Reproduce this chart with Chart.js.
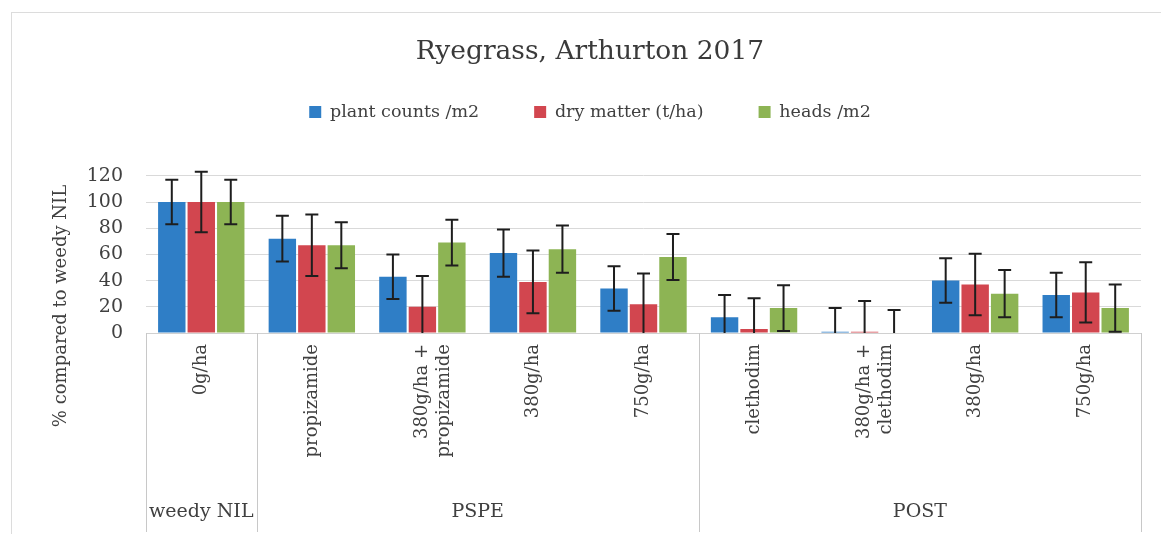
<!DOCTYPE html>
<html>
<head>
<meta charset="utf-8">
<title>Ryegrass, Arthurton 2017</title>
<script src="https://cdn.jsdelivr.net/npm/chart.js@4.4.1/dist/chart.umd.min.js"></script>
<style>
  body{margin:0;background:#fff}
  #wrap{position:relative;width:1161px;height:534px}
  #marco{position:absolute;left:11px;top:12px;right:0;bottom:0;border-top:1px solid #dcdcdc;border-left:1px solid #dcdcdc;pointer-events:none}
</style>
</head>
<body>
<div id="wrap">
  <canvas id="grafico" width="1161" height="534"></canvas>
  <div id="marco"></div>
</div>
<script>
// datos
let categorias=["0g/ha","propizamide",["380g/ha +","propizamide"],"380g/ha","750g/ha","clethodim",["380g/ha +","clethodim"],"380g/ha","750g/ha"]
let grupos=["weedy NIL","PSPE","POST"]
let tamGrupos=[1,4,4]
let series=["plant counts /m2","dry matter (t/ha)","heads /m2"]
let plantas=[100,72,43,61,34,12,1,40,29]
let materiaSeca=[100,67,20,39,22,3,1,37,31]
let cabezas=[100,67,69,64,58,19,0,30,19]
let errPlantas=[17,17.5,17,18,17,17,18,17,17]
let errMateria=[23,23.5,23.5,24,23.5,23.5,23.5,23.5,23]
let errCabezas=[17,17.5,17.5,18,17.5,17.5,17.5,18,18]
let ticksY=[0,20,40,60,80,100,120]
let tituloEje="% compared to weedy NIL"

let colores=['#2f7ec6','#d2464f','#8db454']
let fuente="'DejaVu Serif', serif"
let errores=[errPlantas,errMateria,errCabezas]

const barrasError={
  id:'barrasError',
  afterDatasetsDraw(chart){
    const ctx=chart.ctx, y=chart.scales.y
    ctx.save()
    ctx.strokeStyle='#1e1e1e'
    ctx.lineWidth=2
    chart.data.datasets.forEach((ds,k)=>{
      const meta=chart.getDatasetMeta(k)
      meta.data.forEach((bar,j)=>{
        const v=ds.data[j], e=errores[k][j]
        const yTop=y.getPixelForValue(v+e)
        const yBot=y.getPixelForValue(Math.max(v-e,0))
        ctx.beginPath()
        ctx.moveTo(bar.x,yTop); ctx.lineTo(bar.x,yBot)
        ctx.moveTo(bar.x-6.5,yTop); ctx.lineTo(bar.x+6.5,yTop)
        if(v-e>0){ ctx.moveTo(bar.x-6.5,yBot); ctx.lineTo(bar.x+6.5,yBot) }
        ctx.stroke()
      })
    })
    ctx.restore()
  }
}

const gruposEje={
  id:'gruposEje',
  afterDraw(chart){
    const ctx=chart.ctx, x=chart.scales.x, area=chart.chartArea
    const paso=x.getPixelForTick(1)-x.getPixelForTick(0)
    const borde=i=>x.getPixelForTick(0)+(i-0.5)*paso
    ctx.save()
    ctx.strokeStyle='#c8c8c8'
    ctx.lineWidth=1
    ctx.fillStyle='#404040'
    ctx.font="19px "+fuente
    ctx.textAlign='center'
    ctx.textBaseline='middle'
    let inicio=0
    let b=Math.round(borde(0))+0.5
    ctx.beginPath(); ctx.moveTo(b,area.bottom); ctx.lineTo(b,532); ctx.stroke()
    grupos.forEach((g,n)=>{
      const fin=inicio+tamGrupos[n]
      const xb=Math.round(borde(fin))+0.5
      ctx.beginPath(); ctx.moveTo(xb,area.bottom); ctx.lineTo(xb,532); ctx.stroke()
      ctx.fillText(g,(borde(inicio)+borde(fin))/2,512)
      inicio=fin
    })
    // titulo del eje y
    ctx.translate(61,306)
    ctx.rotate(-Math.PI/2)
    ctx.font="18px "+fuente
    ctx.fillText(tituloEje,0,0)
    ctx.restore()
  }
}

const espacioLeyenda={
  id:'espacioLeyenda',
  beforeInit(chart){
    const fit=chart.legend.fit
    chart.legend.fit=function(){
      fit.bind(chart.legend)()
      this.height+=45
    }
  }
}

const config={
  type:'bar',
  data:{
    labels:categorias,
    datasets:[
      {label:series[0],data:plantas,backgroundColor:colores[0]},
      {label:series[1],data:materiaSeca,backgroundColor:colores[1]},
      {label:series[2],data:cabezas,backgroundColor:colores[2]}
    ]
  },
  options:{
    responsive:false,
    animation:false,
    datasets:{bar:{barPercentage:0.93,categoryPercentage:0.8}},
    layout:{padding:{left:39,right:20,top:0,bottom:0}},
    plugins:{
      title:{
        display:true,
        text:'Ryegrass, Arthurton 2017',
        color:'#3a3a3a',
        font:{family:fuente,size:26.5,weight:'normal'},
        padding:{top:36,bottom:-19.5}
      },
      legend:{
        display:true,
        labels:{
          color:'#404040',
          font:{family:fuente,size:17.5},
          boxWidth:12,
          boxHeight:12,
          padding:55
        }
      },
      tooltip:{enabled:false}
    },
    scales:{
      x:{
        grid:{display:false},
        border:{display:true,color:'#d0d0d0'},
        ticks:{
          color:'#404040',
          font:{family:fuente,size:18},
          maxRotation:90,
          minRotation:90,
          autoSkip:false,
          padding:3
        },
        afterFit(scale){ scale.height=201 }
      },
      y:{
        min:0,
        max:120,
        afterBuildTicks(scale){ scale.ticks=ticksY.map(v=>({value:v})) },
        grid:{color:'#d9d9d9',drawTicks:false},
        border:{display:false},
        ticks:{
          color:'#404040',
          font:{family:fuente,size:19},
          padding:23
        },
        afterFit(scale){ scale.width=107 }
      }
    }
  },
  plugins:[barrasError,gruposEje,espacioLeyenda]
}

const myChart=new Chart(document.getElementById('grafico'),config)
</script>
</body>
</html>
